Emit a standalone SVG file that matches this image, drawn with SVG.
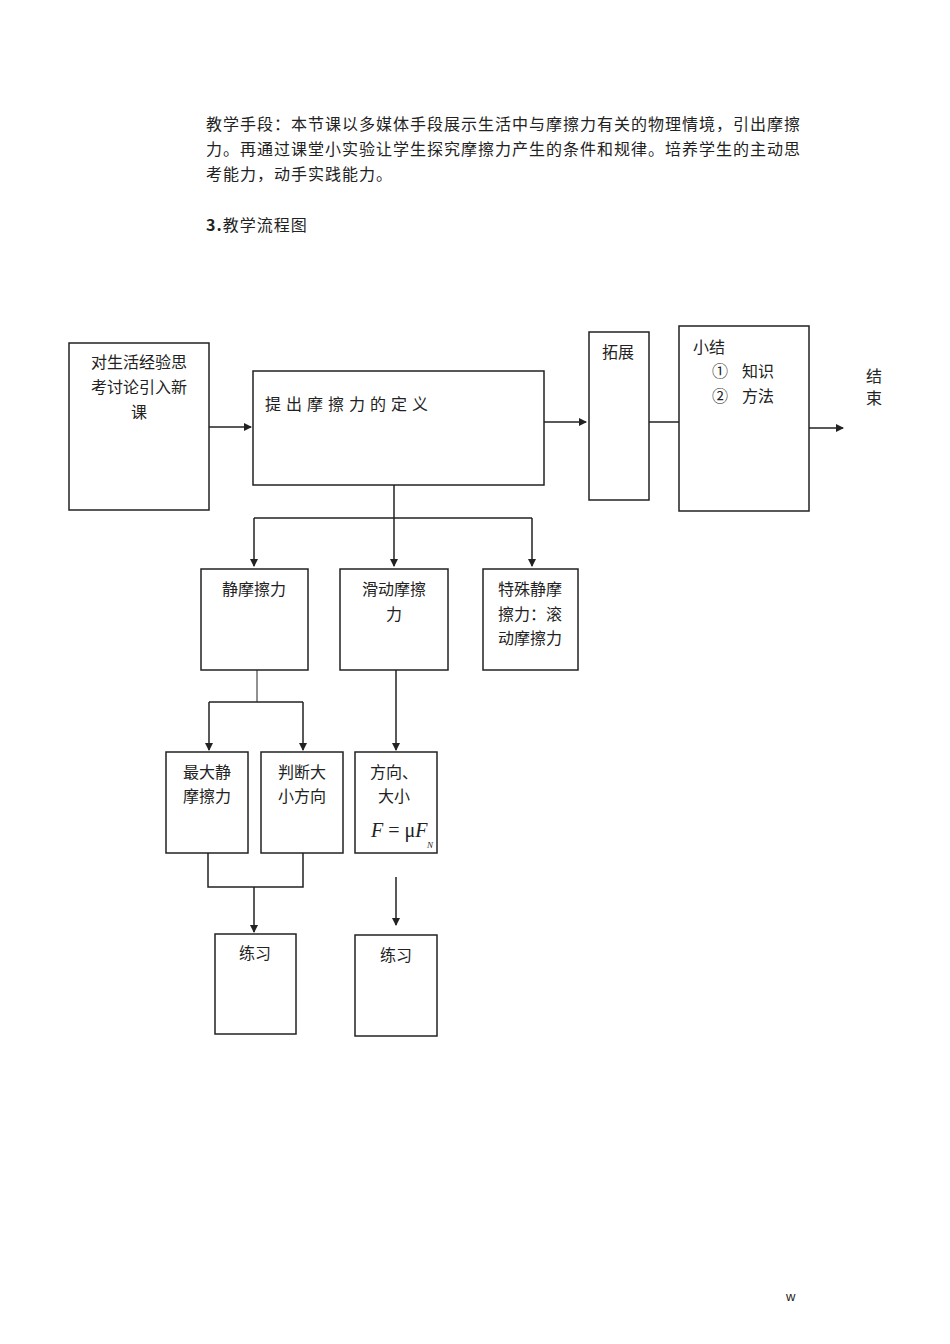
<svg xmlns="http://www.w3.org/2000/svg" width="950" height="1344" viewBox="0 0 950 1344">
<style>
text{font-family:"Noto Sans CJK SC","Noto Sans",sans-serif;fill:#222}
.p{font-size:16px;letter-spacing:1px}
.n{font-size:16px}
.b{fill:#fff;stroke:#222;stroke-width:1.5}
.c{fill:none;stroke:#222;stroke-width:1.5}
.m{text-anchor:middle}
</style>
<defs><marker id="a" markerWidth="8" markerHeight="8" refX="7" refY="4" orient="auto" markerUnits="userSpaceOnUse"><path d="M0,0L8,4L0,8z" fill="#222"/></marker>
<clipPath id="cl"><rect x="860" y="368" width="30" height="40"/></clipPath></defs>
<text class="p" x="206" y="130">教学手段：本节课以多媒体手段展示生活中与摩擦力有关的物理情境，引出摩擦</text>
<text class="p" x="206" y="155">力。再通过课堂小实验让学生探究摩擦力产生的条件和规律。培养学生的主动思</text>
<text class="p" x="206" y="180">考能力，动手实践能力。</text>
<text class="p" x="206" y="231"><tspan font-weight="bold">3.</tspan>教学流程图</text>
<g id="connectors">
<path class="c" d="M209,427H251" marker-end="url(#a)"/>
<path class="c" d="M544,422H586" marker-end="url(#a)"/>
<path class="c" d="M649,422H679"/>
<path class="c" d="M809,428H843" marker-end="url(#a)"/>
<path class="c" d="M394,485V566" marker-end="url(#a)"/>
<path class="c" d="M254,518H532"/>
<path class="c" d="M254,518V566" marker-end="url(#a)"/>
<path class="c" d="M532,518V566" marker-end="url(#a)"/>
<path class="c" d="M257,670V702" style="stroke-width:1"/>
<path class="c" d="M209,702H303"/>
<path class="c" d="M209,702V750" marker-end="url(#a)"/>
<path class="c" d="M303,702V750" marker-end="url(#a)"/>
<path class="c" d="M396,667V750" marker-end="url(#a)"/>
<path class="c" d="M208,853V887H303V853"/>
<path class="c" d="M254,887V932" marker-end="url(#a)"/>
<path class="c" d="M396,877V925" marker-end="url(#a)"/>
</g>
<g id="n1"><rect class="b" x="69" y="343" width="140" height="167"/><text class="n m" x="139" y="368">对生活经验思</text><text class="n m" x="139" y="393">考讨论引入新</text><text class="n m" x="139" y="418">课</text></g>
<g id="n2"><rect class="b" x="253" y="371" width="291" height="114"/><text class="n" x="265" y="410" letter-spacing="5">提出摩擦力的定义</text></g>
<g id="n3"><rect class="b" x="589" y="332" width="60" height="168"/><text class="n" x="602" y="358">拓展</text></g>
<g id="n4"><rect class="b" x="679" y="326" width="130" height="185"/><text class="n" x="693" y="353">小结</text><text class="n" x="712" y="377">①</text><text class="n" x="742" y="377">知识</text><text class="n" x="712" y="402">②</text><text class="n" x="742" y="402">方法</text></g>
<g id="n5" clip-path="url(#cl)"><text class="n" x="866" y="382" font-size="15">结</text><text class="n" x="866" y="404" font-size="15">束</text></g>
<g id="n6"><rect class="b" x="201" y="569" width="107" height="101"/><text class="n m" x="254" y="595">静摩擦力</text></g>
<g id="n7"><rect class="b" x="340" y="569" width="108" height="101"/><text class="n m" x="394" y="595">滑动摩擦</text><text class="n m" x="394" y="620">力</text></g>
<g id="n8"><rect class="b" x="483" y="569" width="95" height="101"/><text class="n m" x="530" y="595">特殊静摩</text><text class="n m" x="530" y="620">擦力：滚</text><text class="n m" x="530" y="644">动摩擦力</text></g>
<g id="n9"><rect class="b" x="166" y="752" width="82" height="101"/><text class="n m" x="207" y="778">最大静</text><text class="n m" x="207" y="802">摩擦力</text></g>
<g id="n10"><rect class="b" x="261" y="752" width="82" height="101"/><text class="n m" x="302" y="778">判断大</text><text class="n m" x="302" y="802">小方向</text></g>
<g id="n11"><rect class="b" x="355" y="752" width="82" height="101"/><text class="n m" x="394" y="778">方向、</text><text class="n m" x="394" y="802">大小</text><text x="371" y="837" style="font-family:'Liberation Serif',serif;font-size:20px;font-style:italic">F <tspan font-style="normal">= μ</tspan>F</text><text x="427" y="848" style="font-family:'Liberation Serif',serif;font-size:9px;font-style:italic">N</text></g>
<g id="n12"><rect class="b" x="215" y="934" width="81" height="100"/><text class="n m" x="255" y="959">练习</text></g>
<g id="n13"><rect class="b" x="355" y="935" width="82" height="101"/><text class="n m" x="396" y="961">练习</text></g>
<text x="786" y="1301" style="font-family:'Liberation Sans',sans-serif;font-size:13px">w</text>
</svg>
